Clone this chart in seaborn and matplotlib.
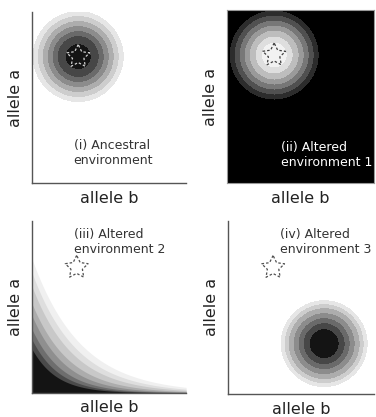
import numpy as np
import seaborn as sns
import matplotlib.pyplot as plt

# fitness peaks (axes fraction) and the ancestral optimum (star)
peak_centers = [(0.30, 0.74), (0.32, 0.74), None, (0.66, 0.29)]
star_centers = [(0.30, 0.74), (0.32, 0.74), (0.29, 0.73), (0.31, 0.73)]

# ring radii in pixels, from inside out
ring_radii_1 = [13, 21, 26, 31, 36, 41, 46]
ring_radii_2 = [13, 19, 25, 30, 35, 40, 45]
ring_radii_4 = [15, 21, 26, 31, 36, 40, 44]
ring_greys = ['#141414', '#474747', '#6a6a6a', '#8c8c8c', '#adadad', '#cdcdcd', '#e6e6e6']
ring_greys_inv = ['#f2f2f2', '#dedede', '#bdbdbd', '#9a9a9a', '#777777', '#505050', '#2c2c2c']

# panel (iii) bands: height on allele a axis and decay rate, inside out
band_y = [0.255, 0.31, 0.37, 0.45, 0.52, 0.62, 0.70, 0.78]
band_k = [6.3, 5.7, 5.2, 4.7, 4.2, 3.8, 3.5, 3.2]
band_greys = ['#141414', '#4a4a4a', '#6e6e6e', '#8f8f8f', '#acacac', '#c8c8c8', '#dedede', '#f0f0f0']

labels = ['(i) Ancestral\nenvironment', '(ii) Altered\nenvironment 1',
          '(iii) Altered\nenvironment 2', '(iv) Altered\nenvironment 3']
label_pos = [(0.27, 0.175), (0.37, 0.16), (0.27, 0.88), (0.36, 0.88)]

sns.set_style('white')
plt.rcParams['font.family'] = ['DejaVu Sans']

fig = plt.figure(figsize=(3.76, 4.17), dpi=100)
rects = [[0.085, 0.561, 0.410, 0.410],
         [0.604, 0.561, 0.391, 0.415],
         [0.085, 0.058, 0.410, 0.412],
         [0.606, 0.0555, 0.388, 0.415]]
axes = [fig.add_axes(r) for r in rects]


def axes_px(ax):
    bb = ax.get_window_extent()
    return bb.width, bb.height


def draw_rings(ax, center, radii, greys, bg):
    w, h = axes_px(ax)
    xs = np.linspace(0, 1, 400)
    ys = np.linspace(0, 1, 400)
    X, Y = np.meshgrid(xs, ys)
    d = np.sqrt(((X - center[0]) * w) ** 2 + ((Y - center[1]) * h) ** 2)
    levels = [0] + radii + [1e4]
    ax.contourf(X, Y, d, levels=levels, colors=greys + [bg])


def draw_star(ax, center, color):
    w, h = axes_px(ax)
    R, r = 12.0, 6.0
    ang = np.pi / 2 + np.arange(11) * np.pi / 5
    rad = np.where(np.arange(11) % 2 == 0, R, r)
    sx = center[0] + rad * np.cos(ang) / w
    sy = center[1] + rad * np.sin(ang) / h
    ax.plot(sx, sy, color=color, lw=0.9, ls=(0, (2, 1.6)))


draw_rings(axes[0], peak_centers[0], ring_radii_1, ring_greys, 'white')
draw_rings(axes[1], peak_centers[1], ring_radii_2, ring_greys_inv, 'black')
draw_rings(axes[3], peak_centers[3], ring_radii_4, ring_greys, 'white')

# panel (iii): monotone landscape, draw outermost band first
xx = np.linspace(0, 1, 400)
for yi, ki, g in reversed(list(zip(band_y, band_k, band_greys))):
    yy = yi * np.exp(-ki * xx)
    axes[2].fill_between(xx, 0, yy, color=g, lw=0)

star_cols = ['#d0d0d0', '#404040', '#505050', '#505050']
for i, ax in enumerate(axes):
    draw_star(ax, star_centers[i], star_cols[i])
    ax.set_xlim(0, 1)
    ax.set_ylim(0, 1)
    ax.set_xticks([])
    ax.set_yticks([])
    tc = 'white' if i == 1 else '#333333'
    ax.text(label_pos[i][0], label_pos[i][1], labels[i], transform=ax.transAxes,
            fontsize=9.0, color=tc, ha='left', va='center', linespacing=1.2)
    ax.text(0.5, -0.088, 'allele b', transform=ax.transAxes, fontsize=11.5,
            color='#222222', ha='center', va='center')
    ax.text(-0.11, 0.5, 'allele a', transform=ax.transAxes, fontsize=11.5,
            color='#222222', ha='center', va='center', rotation=90)

for i in [0, 2, 3]:
    sns.despine(ax=axes[i])
    for s in ['left', 'bottom']:
        axes[i].spines[s].set_color('#555555')
        axes[i].spines[s].set_linewidth(1.0)

axes[1].set_facecolor('black')
for s in axes[1].spines.values():
    s.set_color('#999999')
    s.set_linewidth(0.8)

fig.savefig('out.png', dpi=100)
